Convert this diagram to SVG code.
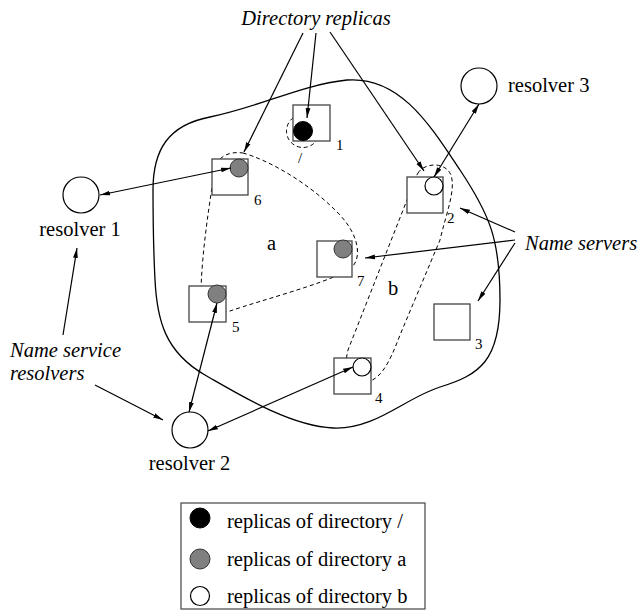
<svg xmlns="http://www.w3.org/2000/svg" width="644" height="610" viewBox="0 0 644 610">
<defs>
<marker id="ah" viewBox="0 0 10 6" refX="10" refY="3" markerWidth="10" markerHeight="6" markerUnits="userSpaceOnUse" orient="auto-start-reverse"><path d="M0,0.6 L10,3 L0,5.4 z" fill="#000"/></marker>
</defs>
<style>
.lbl{font-family:"Liberation Serif","Times New Roman",serif;font-size:20.5px;fill:#000}
.it{font-style:italic}
.num{font-family:"Liberation Serif","Times New Roman",serif;font-size:15px;fill:#000}
.srv{fill:#fff;stroke:#444;stroke-width:1.3}
.res{fill:#fff;stroke:#000;stroke-width:1.2}
.gray{fill:#808080;stroke:#333;stroke-width:1}
.blk{fill:#000;stroke:#000;stroke-width:1}
.wht{fill:#fff;stroke:#000;stroke-width:1.2}
.dash{fill:none;stroke:#000;stroke-width:1;stroke-dasharray:4 3}
.arr{fill:none;stroke:#000;stroke-width:1.2;marker-end:url(#ah)}
.arr2{fill:none;stroke:#000;stroke-width:1.2;marker-start:url(#ah);marker-end:url(#ah)}
</style>
<rect width="644" height="610" fill="#fff"/>
<g id="domain">
<path d="M153,190 C153,150 168,125 210,117 C260,107 300,85 347,80 C400,76 430,125 460,170 C490,215 500,240 500,300 C500,360 480,375 440,387 C405,398 375,430 333,428 C290,426 240,395 205,375 C165,352 157,320 155,280 C153,240 153,220 153,190 Z" fill="none" stroke="#000" stroke-width="1.3"/>
</g>
<g id="regions">
<path class="dash" d="M243,153 C268,160 308,182 338,213 C360,235 364,262 347,271 C320,285 262,300 230,311 C207,318 200,305 201,290 C202,250 210,200 215,168 C218,156 230,151 243,153 Z"/>
<path class="dash" d="M418,173 C424,163 445,161 451,175 C456,190 446,214 440,240 L400,335 C389,364 380,382 362,383 C345,383 344,366 348,350 L407,200 C411,188 414,180 418,173 Z"/>
<circle class="dash" cx="303" cy="131" r="16.5"/>
<text class="lbl" x="267" y="250">a</text>
<text class="lbl" x="388" y="295">b</text>
</g>
<g id="server1"><rect class="srv" x="293" y="105" width="37" height="36"/><circle class="blk" cx="303" cy="131" r="9.5"/><text class="num" x="336" y="150">1</text><text class="num" x="298" y="163" fill="#444">/</text></g>
<g id="server2"><rect class="srv" x="407" y="177" width="36" height="36"/><circle class="wht" cx="434" cy="186" r="9"/><text class="num" x="447" y="223">2</text></g>
<g id="server3"><rect class="srv" x="434" y="304" width="36" height="36"/><text class="num" x="475" y="349">3</text></g>
<g id="server4"><rect class="srv" x="334" y="358" width="37" height="36"/><circle class="wht" cx="362" cy="367" r="9"/><text class="num" x="375" y="403">4</text></g>
<g id="server5"><rect class="srv" x="189" y="286" width="37" height="36"/><circle class="gray" cx="217" cy="294" r="9"/><text class="num" x="232" y="332">5</text></g>
<g id="server6"><rect class="srv" x="212" y="159" width="36" height="36"/><circle class="gray" cx="239" cy="168" r="9"/><text class="num" x="254" y="205">6</text></g>
<g id="server7"><rect class="srv" x="317" y="241" width="35" height="36"/><circle class="gray" cx="343" cy="249" r="9"/><text class="num" x="357" y="286">7</text></g>
<g id="resolver1"><circle class="res" cx="81" cy="195" r="18"/><text class="lbl" x="80" y="236" text-anchor="middle">resolver 1</text></g>
<g id="resolver2"><circle class="res" cx="190" cy="430" r="18"/><text class="lbl" x="189.5" y="470" text-anchor="middle">resolver 2</text></g>
<g id="resolver3"><circle class="res" cx="479" cy="86" r="18"/><text class="lbl" x="508" y="92">resolver 3</text></g>
<g id="labels">
<text class="lbl it" x="316" y="25" text-anchor="middle">Directory replicas</text>
<text class="lbl it" x="525" y="250">Name servers</text>
<text class="lbl it" x="10" y="357">Name service</text>
<text class="lbl it" x="10" y="380">resolvers</text>
</g>
<g id="connectors">
<line class="arr" x1="303" y1="33" x2="244" y2="152"/>
<line class="arr" x1="316" y1="33" x2="307" y2="118"/>
<line class="arr" x1="330" y1="32" x2="424" y2="171"/>
<line class="arr2" x1="231" y1="168" x2="100" y2="195"/>
<line class="arr2" x1="217" y1="303" x2="189" y2="412"/>
<line class="arr2" x1="208" y1="431" x2="353" y2="367"/>
<line class="arr2" x1="434" y1="177" x2="479" y2="104"/>
<line class="arr" x1="63" y1="335" x2="77" y2="248"/>
<line class="arr" x1="95" y1="385" x2="163" y2="420"/>
<line class="arr" x1="515" y1="232" x2="460" y2="208"/>
<line class="arr" x1="515" y1="240" x2="365" y2="258"/>
<line class="arr" x1="515" y1="243" x2="478" y2="301"/>
</g>
<g id="legend">
<rect x="181" y="503" width="244" height="106" fill="#fff" stroke="#444" stroke-width="1.2"/>
<circle class="blk" cx="200" cy="518" r="10"/>
<circle class="gray" cx="200" cy="559" r="10"/>
<circle class="wht" cx="200" cy="596" r="9.5"/>
<text class="lbl" x="227" y="528">replicas of directory /</text>
<text class="lbl" x="227" y="566">replicas of directory a</text>
<text class="lbl" x="227" y="603">replicas of directory b</text>
</g>
</svg>
